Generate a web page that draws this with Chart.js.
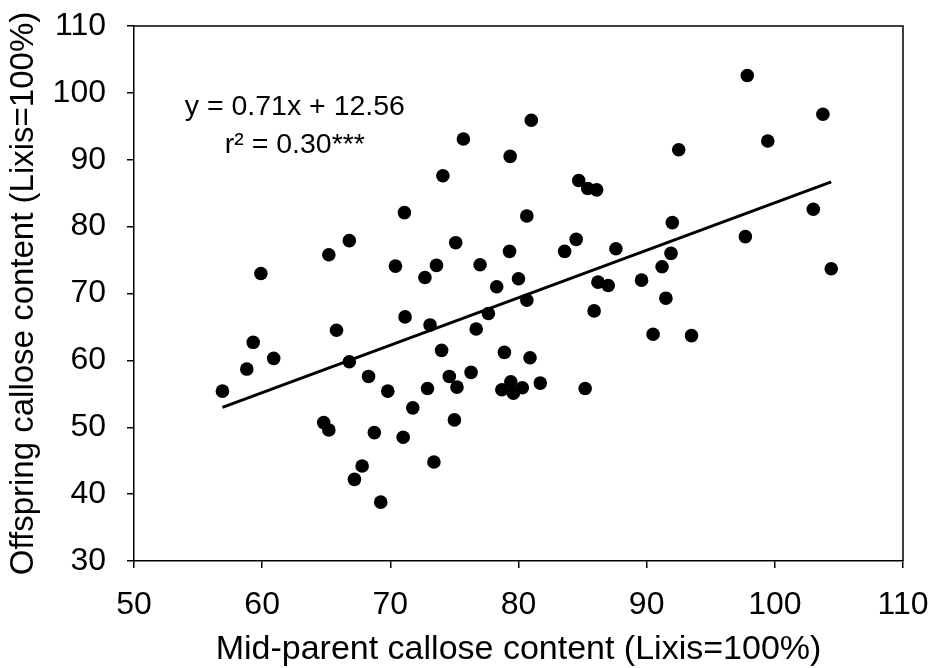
<!DOCTYPE html>
<html>
<head>
<meta charset="utf-8">
<script src="https://cdn.jsdelivr.net/npm/chart.js@4"></script>
<style>
  html, body { margin: 0; padding: 0; background: #fff; }
  #wrap { width: 932px; height: 668px; position: relative; }
</style>
</head>
<body>
<div id="wrap"><canvas id="chart_callose"></canvas></div>
<script>
// mid-parent (x) and offspring (y) callose content, Lixis = 100%
var midParent = [
  56.9, 58.8, 59.3, 59.9, 60.9, 64.8, 65.2, 65.2, 65.8, 66.8,
  66.8, 67.2, 67.8, 68.3, 68.75, 69.25, 69.8, 70.4, 71.0, 71.1,
  71.15, 71.75, 72.7, 72.9, 73.1, 73.4, 73.6, 74.0, 74.1, 74.6,
  75.0, 75.1, 75.2, 75.7, 76.3, 76.7, 77.0, 77.65, 78.3, 78.7,
  78.9, 79.3, 79.35, 79.4, 79.6, 80.0, 80.3, 80.65, 80.65, 80.9,
  81.0, 81.7, 83.6, 84.5, 84.7, 85.2, 85.4, 85.9, 86.1, 86.2,
  87.0, 87.6, 89.6, 90.5, 91.2, 91.5, 91.9, 92.0, 92.5, 93.5,
  97.7, 97.85, 99.45, 103.0, 103.75, 104.4
];
var offspring = [
  55.4, 58.7, 62.7, 73.0, 60.3, 50.7, 49.6, 75.8, 64.5, 77.9,
  59.8, 42.2, 44.2, 57.6, 49.2, 38.8, 55.4, 74.1, 48.5, 82.1,
  66.5, 52.9, 72.4, 55.8, 65.3, 44.8, 74.2, 61.5, 87.6, 57.6,
  51.1, 77.6, 56.0, 93.1, 58.2, 64.7, 74.3, 67.0, 71.0, 55.6,
  61.2, 76.3, 90.5, 56.8, 55.1, 72.2, 55.9, 69.0, 81.6, 60.4,
  95.9, 56.6, 76.3, 78.1, 86.9, 55.8, 85.7, 67.4, 85.5, 71.7,
  71.2, 76.7, 72.0, 63.9, 74.0, 69.3, 76.0, 80.6, 91.5, 63.7,
  78.5, 102.6, 92.8, 82.6, 96.8, 73.7
];

// fitted line y = 0.71x + 12.56, drawn over the x range of the data
var fitSlope = 0.71;
var fitIntercept = 12.56;
var fitRange = [56.9, 104.4];

var xTicks = [50, 60, 70, 80, 90, 100, 110];
var yTicks = [30, 40, 50, 60, 70, 80, 90, 100, 110];

var fitLabel = ['y = 0.71x + 12.56', 'r\u00b2 = 0.30***'];

var scatterPoints = midParent.map(function (x, i) { return { x: x, y: offspring[i] }; });
var fitPoints = fitRange.map(function (x) { return { x: x, y: fitSlope * x + fitIntercept }; });

var FONT = '"Liberation Sans", Arial, Helvetica, sans-serif';

var chart_callose = new Chart(document.getElementById('chart_callose'), {
    type: 'scatter',
    data: {
        datasets: [
            {
                label: 'Offspring',
                data: scatterPoints,
                backgroundColor: '#000',
                borderWidth: 0,
                pointRadius: 6.8,
                pointHoverRadius: 6.8
            },
            {
                type: 'line',
                label: 'Fit',
                data: fitPoints,
                borderColor: '#000',
                borderWidth: 3,
                pointRadius: 0,
                fill: false
            }
        ]
    },
    options: {
        animation: false,
        responsive: true,
        maintainAspectRatio: false,
        layout: { padding: { top: 26, right: 29, left: 0, bottom: 0 } },
        plugins: {
            legend: { display: false },
            tooltip: { enabled: false }
        },
        scales: {
            x: {
                type: 'linear',
                min: 50,
                max: 110,
                afterFit: function (scale) {
                    scale.height = 107;
                    scale.paddingLeft = 0;
                    scale.paddingRight = 0;
                },
                afterBuildTicks: function (scale) {
                    scale.ticks = xTicks.map(function (v) { return { value: v }; });
                },
                ticks: {
                    color: '#000',
                    padding: 18,
                    maxRotation: 0,
                    font: { family: FONT, size: 32 }
                },
                grid: {
                    drawOnChartArea: false,
                    drawTicks: true,
                    tickLength: 7,
                    color: '#000',
                    lineWidth: 1.5
                },
                border: { display: true, color: '#000', width: 1.5 },
                title: {
                    display: true,
                    text: 'Mid-parent callose content (Lixis=100%)',
                    color: '#000',
                    padding: { top: 0, bottom: -2 },
                    font: { family: FONT, size: 34 }
                }
            },
            y: {
                type: 'linear',
                min: 30,
                max: 110,
                afterFit: function (scale) {
                    scale.width = 134;
                    scale.paddingTop = 0;
                    scale.paddingBottom = 0;
                },
                afterBuildTicks: function (scale) {
                    scale.ticks = yTicks.map(function (v) { return { value: v }; });
                },
                ticks: {
                    color: '#000',
                    padding: 21,
                    font: { family: FONT, size: 32 }
                },
                grid: {
                    drawOnChartArea: false,
                    drawTicks: true,
                    tickLength: 7,
                    color: '#000',
                    lineWidth: 1.5
                },
                border: { display: true, color: '#000', width: 1.5 },
                title: {
                    display: true,
                    text: 'Offspring callose content (Lixis=100%)',
                    color: '#000',
                    padding: { top: 4, bottom: 0 },
                    font: { family: FONT, size: 33 }
                }
            }
        }
    },
    plugins: [{
        id: 'frameAndLabel',
        beforeDraw: function (chart) {
            var ctx = chart.ctx;
            ctx.save();
            ctx.fillStyle = 'white';
            ctx.fillRect(0, 0, chart.width, chart.height);
            ctx.restore();
        },
        afterDraw: function (chart) {
            var ctx = chart.ctx;
            var a = chart.chartArea;
            var xs = chart.scales.x, ys = chart.scales.y;
            ctx.save();
            // top and right edges of the plot box
            ctx.strokeStyle = '#000';
            ctx.lineWidth = 1.5;
            ctx.beginPath();
            ctx.moveTo(a.left, a.top);
            ctx.lineTo(a.right, a.top);
            ctx.lineTo(a.right, a.bottom);
            ctx.stroke();
            // equation text, anchored in data units
            ctx.fillStyle = '#000';
            ctx.font = '28.5px ' + FONT;
            ctx.textAlign = 'center';
            ctx.textBaseline = 'alphabetic';
            ctx.fillText(fitLabel[0], xs.getPixelForValue(62.55), ys.getPixelForValue(96.7));
            ctx.fillText(fitLabel[1], xs.getPixelForValue(62.55), ys.getPixelForValue(91.0));
            ctx.restore();
        }
    }]
});
</script>
</body>
</html>
